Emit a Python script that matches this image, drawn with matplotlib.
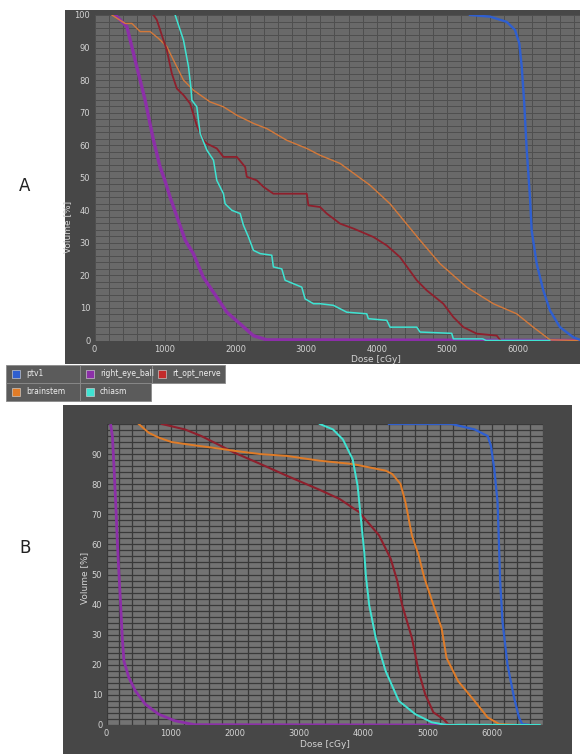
import numpy as np
import matplotlib
matplotlib.use("Agg")
import matplotlib.pyplot as plt
from matplotlib.patches import Rectangle

# ---- DVH data, panel A (dose in cGy, volume in %) ----
a_ptv1_dose = [5321, 5604, 5841, 5959, 6020, 6054, 6087, 6125, 6171, 6195, 6266, 6360, 6455, 6596, 6785, 6880]
a_ptv1_vol = [100, 99.5, 97.9, 95.4, 91.3, 84.1, 73.8, 58.5, 44.1, 33.8, 23.6, 15.4, 9.2, 4.1, 1.0, 0.2]

a_eye_dose = [295, 459, 600, 718, 836, 930, 1000, 1072, 1285, 1400, 1540, 1733, 1875, 2064, 2250, 2440, 6880]
a_eye_vol = [100, 96.4, 84, 73.8, 61.5, 53.3, 49, 44, 30.8, 26.7, 19.5, 13.3, 8.7, 5.1, 1.5, 0.2, 0]

a_nerve_dose = [836, 883, 977, 1025, 1096, 1167, 1261, 1355, 1450, 1544, 1592, 1733, 1827, 2017, 2135, 2158,
                2300, 2394, 2535, 3008, 3031, 3197, 3291, 3480, 3669, 3952, 4142, 4330, 4567, 4708, 4943,
                5085, 5227, 5416, 5700, 5747]
a_nerve_vol = [100, 98.5, 92.3, 89.2, 82, 77.4, 75.4, 72.8, 66, 61.5, 60.5, 59, 56.4, 56.4, 53.3, 50.3,
               49.2, 47.2, 45.1, 45.1, 41.5, 41, 39, 35.9, 34.4, 31.8, 29.2, 25.6, 18.5, 15.4, 11.3,
               7.2, 4.1, 2.1, 1.5, 0.2]

a_brainstem_dose = [246, 435, 530, 647, 789, 907, 1025, 1143, 1261, 1402, 1638, 1827, 2017, 2252, 2442, 2725,
                    3008, 3197, 3480, 3905, 4188, 4613, 4896, 5274, 5652, 5983, 6218, 6455, 6880]
a_brainstem_vol = [100, 97.4, 97.4, 94.9, 94.9, 92.8, 90.3, 85.1, 80, 76.9, 73.3, 71.8, 69.2, 66.7, 65.1, 61.5,
                   59, 56.9, 54.4, 47.7, 42, 30.8, 23.6, 16.4, 11.3, 8.2, 4.1, 0.2, 0]

a_chiasm_dose = [1143, 1261, 1332, 1365, 1380, 1450, 1497, 1592, 1686, 1733, 1827, 1851, 1946, 2064, 2111, 2182,
                 2252, 2347, 2512, 2535, 2654, 2701, 2937, 2984, 3102, 3197, 3386, 3575, 3858, 3881, 4142,
                 4188, 4567, 4613, 5062, 5085, 5500, 5550, 6450]
a_chiasm_vol = [100, 92.3, 84.1, 77.9, 73.8, 71.8, 63.6, 58.5, 55.4, 49.2, 45.1, 42, 40, 39, 35.4, 31.8,
                27.7, 26.7, 26.2, 22.6, 22, 18.5, 16.4, 12.8, 11.3, 11.3, 10.8, 8.7, 8.2, 6.7, 6.2,
                4.1, 4.1, 2.6, 2.2, 0.5, 0.5, 0, 0]

# ---- DVH data, panel B ----
b_ptv1_dose = [4400, 5374, 5733, 5938, 5989, 6041, 6092, 6118, 6133, 6169, 6246, 6349, 6426, 6477, 6600]
b_ptv1_vol = [100, 100, 98.2, 96, 92.7, 85, 74, 57.5, 47.6, 34.4, 20.1, 9.1, 2.5, 0.3, 0]

b_eye_dose = [66, 92, 118, 143, 169, 195, 220, 246, 272, 349, 451, 605, 811, 1066, 1374, 5300]
b_eye_vol = [99.5, 96, 85, 74, 60.8, 50, 40, 28.9, 21.2, 15.7, 11.3, 6.9, 3.6, 1.4, 0.1, 0]

b_nerve_dose = [862, 1220, 1477, 1785, 1989, 2400, 2810, 3323, 3631, 3938, 4246, 4426, 4528, 4605, 4758, 4862,
                4965, 5092, 5246, 5323, 5500]
b_nerve_vol = [100, 98.2, 96, 92.7, 90.5, 86.7, 82.8, 78.1, 75.1, 70.7, 63, 55.3, 48, 39.9, 28.9, 17.9,
               10.2, 4.2, 2, 0.3, 0]

b_brainstem_dose = [503, 657, 811, 1015, 1374, 1631, 1989, 2400, 2810, 3323, 3835, 4349, 4451, 4580, 4657, 4758,
                    4862, 4950, 5092, 5220, 5297, 5477, 5733, 5938, 6118, 6400]
b_brainstem_vol = [100, 97.1, 95.5, 94, 92.9, 92.2, 91.1, 90, 89.4, 87.8, 86.7, 84.5, 83.4, 80.1, 74, 63,
                   56.4, 49, 39.9, 32.2, 22.3, 14.6, 8, 2.5, 0.3, 0]

b_chiasm_dose = [3323, 3528, 3682, 3835, 3912, 3963, 4015, 4041, 4092, 4195, 4349, 4554, 4810, 5066, 5272, 6750]
b_chiasm_vol = [100, 98.2, 94.9, 88.3, 79.5, 68.5, 57.5, 49.5, 39.9, 28.9, 17.9, 8, 3.6, 0.9, 0.1, 0]

structures = ["ptv1", "right_eye_ball", "rt_opt_nerve", "brainstem", "chiasm"]
x_major = [0, 1000, 2000, 3000, 4000, 5000, 6000]

W, H = 580, 754
fig = plt.figure(figsize=(W / 100, H / 100), dpi=100)
fig.patch.set_facecolor("white")


def fbox(x0, y0, x1, y1):
    # pixel box (top-left origin) -> figure fraction rect
    return [x0 / W, 1 - y1 / H, (x1 - x0) / W, (y1 - y0) / H]


def frame(x0, y0, x1, y1, color):
    fig.patches.append(Rectangle((x0 / W, 1 - y1 / H), (x1 - x0) / W, (y1 - y0) / H,
                                 transform=fig.transFigure, facecolor=color, edgecolor="none", zorder=-5))


frame(65, 10, 580, 364, "#474747")
frame(63, 405, 572, 754, "#474747")

txt_col = "#d4d4d4"


def style_axes(ax, xlim, bg, gridcol, gridlw, ylabels):
    ax.set_facecolor(bg)
    ax.set_xlim(*xlim)
    ax.set_ylim(0, 100)
    ax.set_xticks(x_major)
    ax.set_xticks(np.arange(0, 7000, 200), minor=True)
    ax.set_yticks(ylabels)
    ax.set_yticks(np.arange(0, 101, 2), minor=True)
    ax.grid(True, which="both", color=gridcol, lw=gridlw)
    ax.set_axisbelow(True)
    for s in ax.spines.values():
        s.set_visible(False)
    ax.tick_params(which="both", length=0, labelsize=6, colors=txt_col, pad=3)
    ax.set_xlabel("Dose [cGy]", fontsize=6.5, color=txt_col, labelpad=1)
    ax.set_ylabel("Volume [%]", fontsize=6.5, color=txt_col, labelpad=2)


col_ptv = "#2f5fd0"
col_eye = "#8c2fa8"
col_nerve = "#8e1f2c"
col_brain = "#e07c28"
col_chiasm = "#3fe3d2"

# Panel A
axA = fig.add_axes(fbox(94.5, 15, 580, 340.5))
style_axes(axA, (0, 6880), "#696969", "#4f4f4f", 0.7, np.arange(0, 101, 10))
axA.plot(a_eye_dose, a_eye_vol, color=col_eye, lw=2.4)
axA.plot(a_brainstem_dose, a_brainstem_vol, color="#d4793a", lw=1.0)
axA.plot(a_nerve_dose, a_nerve_vol, color=col_nerve, lw=1.3)
axA.plot(a_chiasm_dose, a_chiasm_vol, color=col_chiasm, lw=1.1)
axA.plot(a_ptv1_dose, a_ptv1_vol, color=col_ptv, lw=1.7)
axA.yaxis.label.set_position((0, 0.35))
axA.xaxis.label.set_position((0.58, 0))

# Panel B
axB = fig.add_axes(fbox(106.5, 424, 543, 725))
style_axes(axB, (30, 6750), "#737373", "#393939", 0.9, np.arange(0, 91, 10))
axB.plot(b_eye_dose, b_eye_vol, color=col_eye, lw=2.0)
axB.plot(b_nerve_dose, b_nerve_vol, color=col_nerve, lw=1.5)
axB.plot(b_brainstem_dose, b_brainstem_vol, color=col_brain, lw=1.4)
axB.plot(b_ptv1_dose, b_ptv1_vol, color=col_ptv, lw=1.6)
axB.plot(b_chiasm_dose, b_chiasm_vol, color=col_chiasm, lw=1.4)
axB.yaxis.label.set_position((0, 0.49))

# panel letters
fig.text(25 / W, 1 - 186 / H, "A", fontsize=12, color="#222222", ha="center", va="center")
fig.text(25 / W, 1 - 548 / H, "B", fontsize=12, color="#222222", ha="center", va="center")

# legend cells: (label, colour, x0, y0, x1, y1) in pixels
legend_cells = [
    (structures[0], col_ptv, 6, 365, 80, 383),
    (structures[1], col_eye, 80, 365, 152, 383),
    (structures[2], "#c42a2a", 152, 365, 225, 383),
    (structures[3], col_brain, 6, 383, 80, 401),
    (structures[4], col_chiasm, 80, 383, 151, 401),
]
for label, c, x0, y0, x1, y1 in legend_cells:
    fig.patches.append(Rectangle((x0 / W, 1 - y1 / H), (x1 - x0) / W, (y1 - y0) / H,
                                 transform=fig.transFigure, facecolor="#5b5b5b",
                                 edgecolor="#8a8a8a", lw=0.6, zorder=3))
    sy = (y0 + y1) / 2
    fig.patches.append(Rectangle(((x0 + 6) / W, 1 - (sy + 4) / H), 8 / W, 8 / H,
                                 transform=fig.transFigure, facecolor=c,
                                 edgecolor="#dddddd", lw=0.4, zorder=4))
    fig.text((x0 + 20) / W, 1 - sy / H, label, fontsize=5.5, color="#f0f0f0",
             ha="left", va="center", zorder=5)

fig.savefig("out.png", dpi=100)
